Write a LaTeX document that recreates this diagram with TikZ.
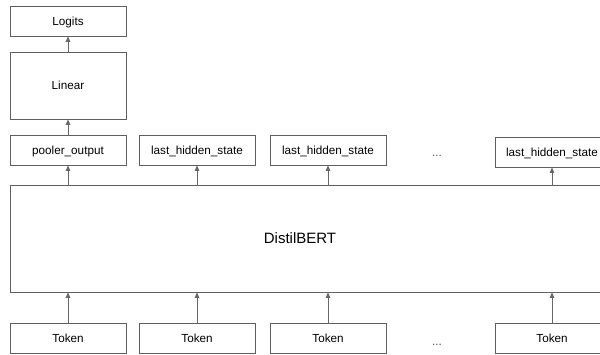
\documentclass[tikz,border=0pt]{standalone}
\usepackage{fontspec}
\setmainfont{Liberation Sans}
\usetikzlibrary{arrows.meta}
\definecolor{edgegray}{HTML}{5F5F5F}
\definecolor{arrowgray}{HTML}{666666}
\tikzset{
  box/.style={draw=edgegray, line width=0.9pt, fill=white, inner sep=0pt, text depth=0pt, font=\fontsize{11.7}{14}\selectfont},
  smallbox/.style={box, minimum width=116pt, minimum height=30pt},
  conn/.style={draw=arrowgray, line width=0.8pt, -{Triangle[length=5.5pt,width=4.5pt]}},
  dots/.style={font=\fontsize{11.7}{14}\selectfont, text=black!70}
}
\begin{document}
\begin{tikzpicture}[x=1pt,y=1pt]
\useasboundingbox (0,0) rectangle (600,354);
\clip (0,0) rectangle (600,354);
\fill[white] (0,0) rectangle (600,354);
% top chain
\node[smallbox] (logits) at (68,333) {Logits};
\node[box, minimum width=116pt, minimum height=67pt] (linear) at (68,268.5) {Linear};
\node[smallbox] (pooler) at (68,204) {pooler\_output};
\node[smallbox] (lhsA) at (197,204) {last\_hidden\_state};
\node[smallbox] (lhsB) at (328,204) {last\_hidden\_state};
\node[dots] (dotsTop) at (437,198) {...};
\node[box, minimum width=114pt, minimum height=30pt] (lhsC) at (552,202) {last\_hidden\_state};
% main model
\node[box, minimum width=600pt, minimum height=107pt] (bert) at (310,115.5) {};
\node[font=\fontsize{15}{18}\selectfont, text depth=0pt] (bertlabel) at (300,116) {DistilBERT};
% tokens
\node[smallbox] (tokA) at (68,16) {Token};
\node[smallbox] (tokB) at (197,16) {Token};
\node[smallbox] (tokC) at (328,16) {Token};
\node[dots] (dotsBot) at (437,9) {...};
\node[box, minimum width=114pt, minimum height=30pt] (tokD) at (552,16) {Token};
% connectors
\draw[conn] (linear.north) -- (logits.south);
\draw[conn] (pooler.north) -- (linear.south);
\draw[conn] (bert.north -| pooler.south) -- (pooler.south);
\draw[conn] (bert.north -| lhsA.south) -- (lhsA.south);
\draw[conn] (bert.north -| lhsB.south) -- (lhsB.south);
\draw[conn] (bert.north -| lhsC.south) -- (lhsC.south);
\draw[conn] (tokA.north) -- (tokA.north |- bert.south);
\draw[conn] (tokB.north) -- (tokB.north |- bert.south);
\draw[conn] (tokC.north) -- (tokC.north |- bert.south);
\draw[conn] (tokD.north) -- (tokD.north |- bert.south);
\end{tikzpicture}
\end{document}
